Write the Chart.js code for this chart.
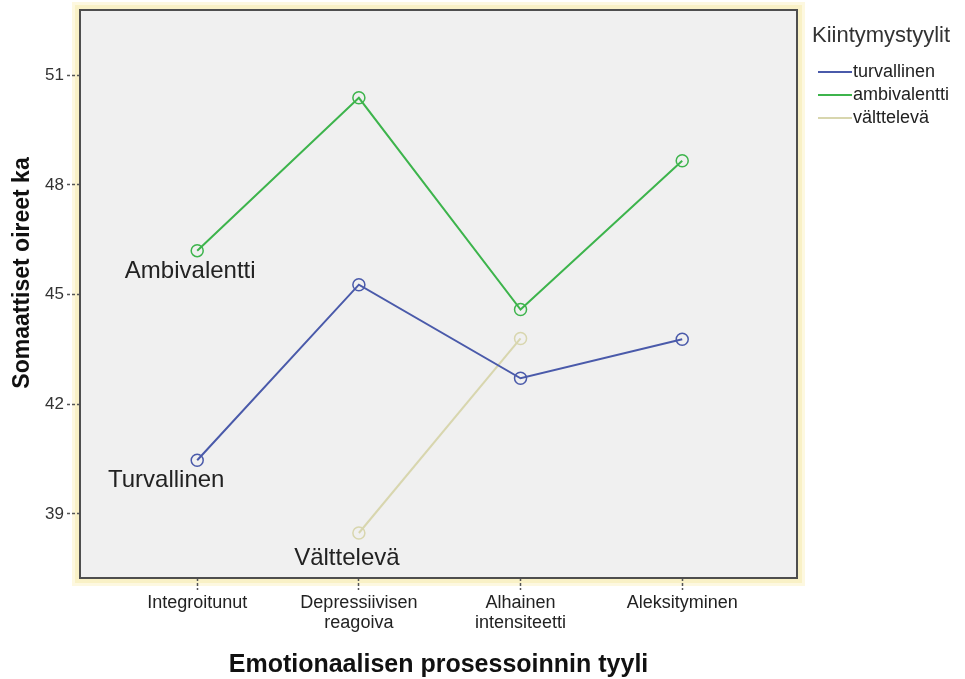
<!DOCTYPE html>
<html>
<head>
<meta charset="utf-8">
<script src="https://cdn.jsdelivr.net/npm/chart.js@4.4.1/dist/chart.umd.min.js"></script>
<style>
  html, body { margin: 0; padding: 0; background: #ffffff; }
  #wrap { width: 965px; height: 679px; position: relative; }
</style>
</head>
<body>
<div id="wrap"><canvas id="c" width="965" height="679"></canvas></div>
<script>
// ---- data ----
const categories = ["Integroitunut", ["Depressiivisen", "reagoiva"], ["Alhainen", "intensiteetti"], "Aleksityminen"];
const seriesNames = ["turvallinen", "ambivalentti", "välttelevä"];
const turvallinen = [40.47, 45.27, 42.71, 43.78];
const ambivalentti = [46.20, 50.38, 44.59, 48.66];
const valtteleva = [null, 38.48, 43.80, null];
const yTickValues = [39, 42, 45, 48, 51];
const lineLabels = ["Turvallinen", "Ambivalentti", "Välttelevä"];
const legendTitle = "Kiintymystyylit";
const xTitle = "Emotionaalisen prosessoinnin tyyli";
const yTitle = "Somaattiset oireet ka";

const colors = ["#4a5aaa", "#3db44c", "#d8d6ae"];
const FONT = "'Liberation Sans', Arial, sans-serif";

function toPoints(arr) { return arr.map((v, i) => ({ x: i, y: v })); }
const allSeries = [turvallinen, ambivalentti, valtteleva];

const datasets = allSeries.map((s, k) => ({
  label: seriesNames[k],
  data: toPoints(s),
  borderColor: colors[k],
  backgroundColor: 'rgba(0,0,0,0)',
  borderWidth: 2,
  pointRadius: 6,
  pointHoverRadius: 6,
  pointBorderWidth: 1.5,
  pointBorderColor: colors[k],
  pointBackgroundColor: 'rgba(0,0,0,0)',
  tension: 0,
  spanGaps: false
}));

// in-plot labels anchored at a data point of their series, with a pixel offset
const labelAnchors = [
  { series: 0, index: 0, dx: -31, dy: 20 },
  { series: 1, index: 0, dx: -7, dy: 21 },
  { series: 2, index: 1, dx: -12, dy: 25 }
];

const framePlugin = {
  id: 'frame',
  beforeDraw(chart) {
    const { ctx, chartArea: a } = chart;
    ctx.save();
    ctx.strokeStyle = '#fdf8e0';
    ctx.lineWidth = 12;
    ctx.strokeRect(a.left - 2, a.top - 2, a.right - a.left + 4, a.bottom - a.top + 4);
    ctx.strokeStyle = '#f9f1c6';
    ctx.lineWidth = 6;
    ctx.strokeRect(a.left - 2, a.top - 2, a.right - a.left + 4, a.bottom - a.top + 4);
    ctx.fillStyle = '#f0f0f0';
    ctx.fillRect(a.left, a.top, a.right - a.left, a.bottom - a.top);
    ctx.restore();
  },
  afterDatasetsDraw(chart) {
    const { ctx, chartArea: a, scales } = chart;
    ctx.save();
    ctx.strokeStyle = '#4e4e4e';
    ctx.lineWidth = 2;
    ctx.strokeRect(a.left, a.top, a.right - a.left, a.bottom - a.top);
    // in-plot labels
    ctx.fillStyle = '#222222';
    ctx.font = "24px " + FONT;
    ctx.textAlign = 'center';
    ctx.textBaseline = 'middle';
    labelAnchors.forEach((l) => {
      const v = allSeries[l.series][l.index];
      const px = scales.x.getPixelForValue(l.index) + l.dx;
      const py = scales.y.getPixelForValue(v) + l.dy;
      ctx.fillText(lineLabels[l.series], px, py);
    });
    // axis titles
    ctx.fillStyle = '#111111';
    ctx.font = "bold 25px " + FONT;
    ctx.textBaseline = 'alphabetic';
    ctx.fillText(xTitle, (a.left + a.right) / 2, 672);
    ctx.save();
    ctx.translate(29, (a.top + a.bottom) / 2 - 21);
    ctx.rotate(-Math.PI / 2);
    ctx.font = "bold 23px " + FONT;
    ctx.fillText(yTitle, 0, 0);
    ctx.restore();
    // legend
    ctx.textAlign = 'left';
    ctx.textBaseline = 'middle';
    ctx.fillStyle = '#333333';
    ctx.font = "22px " + FONT;
    ctx.fillText(legendTitle, 812, 36);
    ctx.font = "18px " + FONT;
    seriesNames.forEach((n, k) => {
      const y = 72 + k * 23;
      ctx.strokeStyle = colors[k];
      ctx.lineWidth = 2;
      ctx.beginPath();
      ctx.moveTo(818, y);
      ctx.lineTo(852, y);
      ctx.stroke();
      ctx.fillStyle = '#222222';
      ctx.fillText(n, 853, y);
    });
    ctx.restore();
  }
};

new Chart(document.getElementById('c'), {
  type: 'line',
  data: { datasets },
  plugins: [framePlugin],
  options: {
    responsive: false,
    animation: false,
    devicePixelRatio: 1,
    layout: { padding: { left: 0, top: 10, right: 168, bottom: 0 } },
    plugins: {
      legend: { display: false },
      tooltip: { enabled: false },
      title: { display: false }
    },
    scales: {
      x: {
        type: 'linear',
        min: -0.725,
        max: 3.71,
        afterBuildTicks(scale) { scale.ticks = categories.map((c, i) => ({ value: i })); },
        afterFit(scale) { scale.height = 101; scale.paddingLeft = 0; scale.paddingRight = 0; },
        border: { display: false },
        grid: {
          drawOnChartArea: false,
          drawTicks: true,
          tickLength: 12,
          tickColor: '#555555',
          tickBorderDash: [3, 2],
          tickWidth: 1.5
        },
        ticks: {
          autoSkip: false,
          maxRotation: 0,
          padding: 3,
          color: '#222222',
          font: { family: FONT, size: 18, lineHeight: 1.12 },
          callback: (v) => categories[v]
        },
        title: { display: false }
      },
      y: {
        type: 'linear',
        min: 37.25,
        max: 52.78,
        afterBuildTicks(scale) { scale.ticks = yTickValues.map(v => ({ value: v })); },
        afterFit(scale) { scale.width = 80; scale.paddingTop = 0; scale.paddingBottom = 0; },
        border: { display: false },
        grid: {
          drawOnChartArea: false,
          drawTicks: true,
          tickLength: 13,
          tickColor: '#555555',
          tickBorderDash: [3, 2],
          tickWidth: 1.5
        },
        ticks: {
          padding: 3,
          color: '#333333',
          font: { family: FONT, size: 17 }
        },
        title: { display: false }
      }
    }
  }
});
</script>
</body>
</html>
